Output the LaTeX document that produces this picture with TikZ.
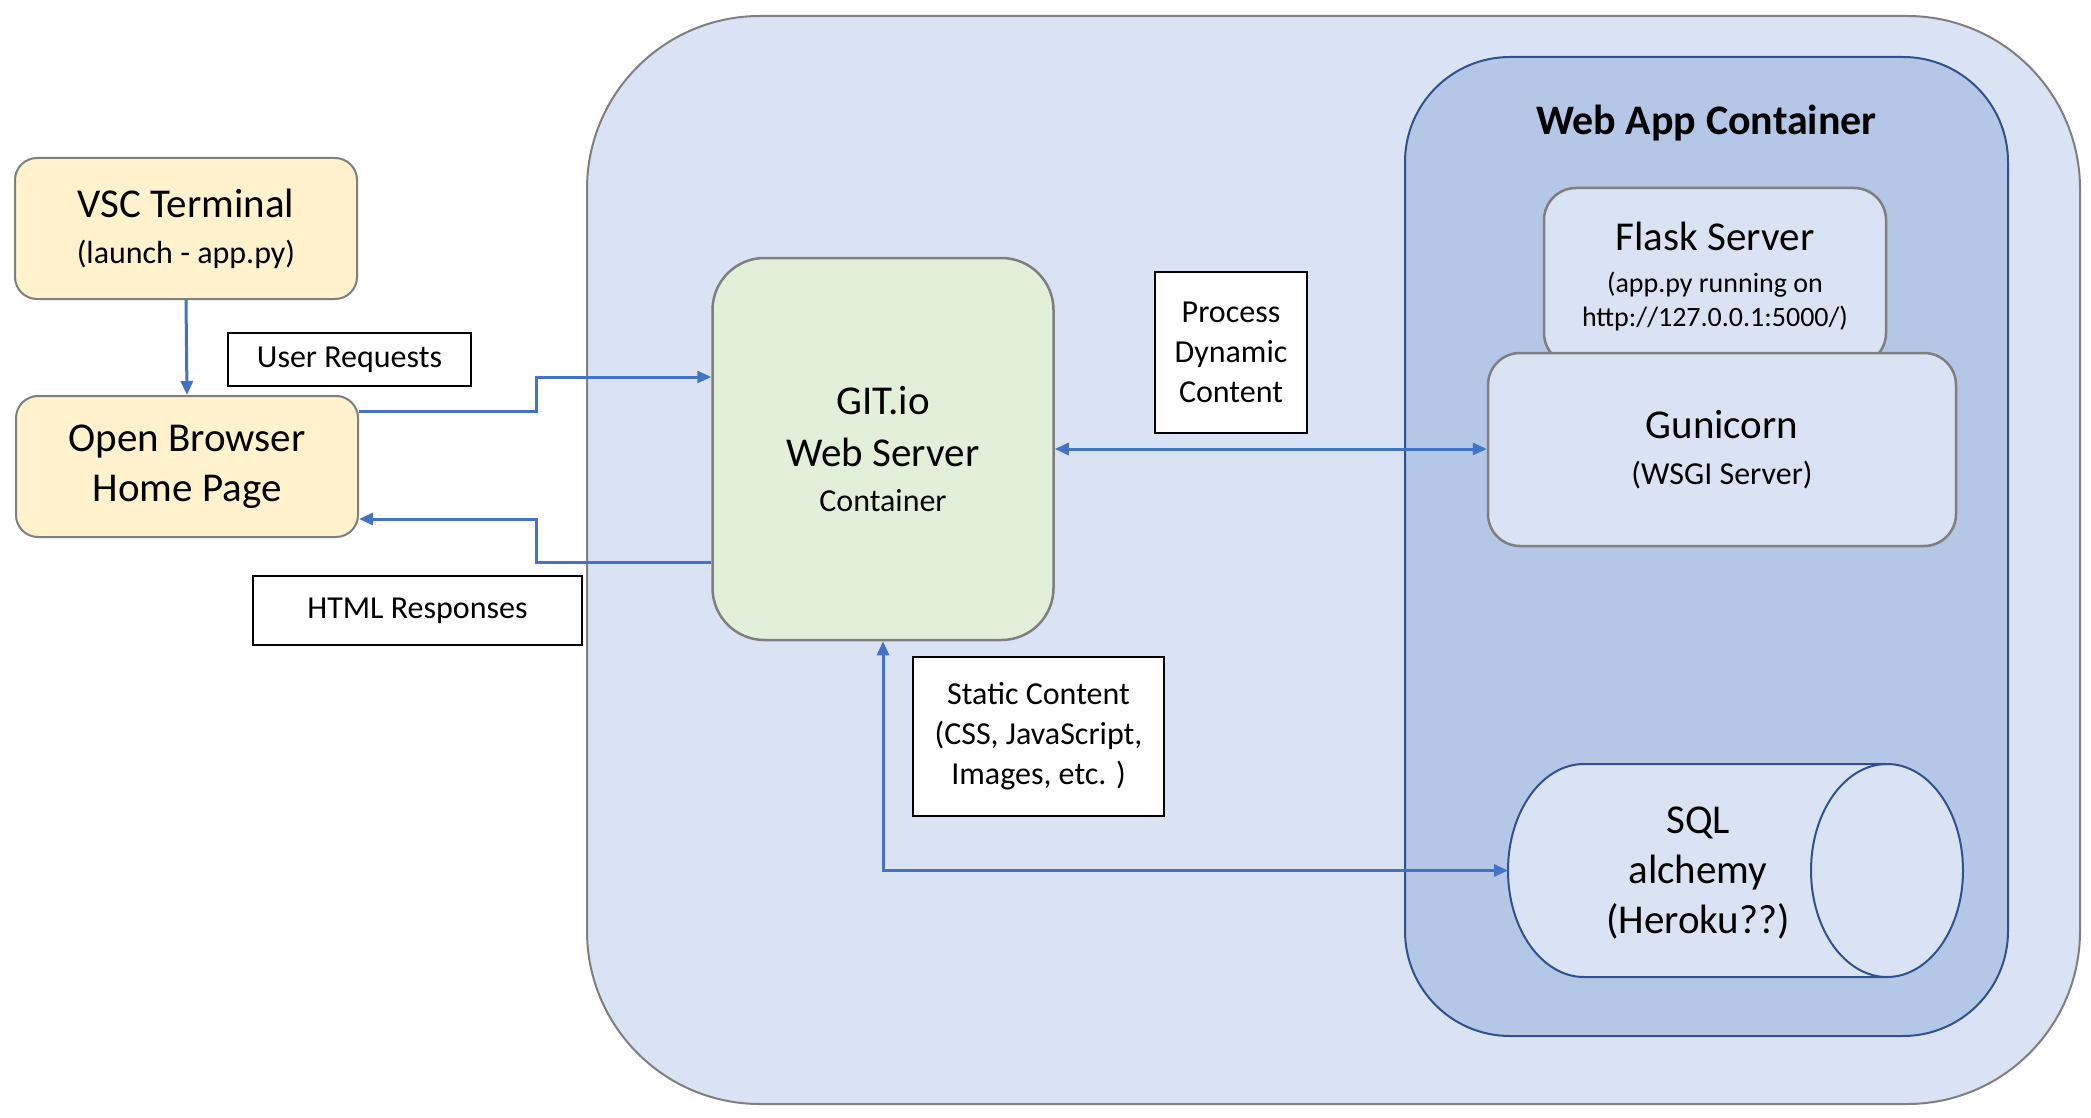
\documentclass[tikz,border=0pt]{standalone}
\usepackage{fontspec}
\setmainfont{Carlito}
\usetikzlibrary{arrows.meta,calc}
\definecolor{outerfill}{HTML}{DAE3F3}
\definecolor{appfill}{HTML}{B4C7E7}
\definecolor{appline}{HTML}{2F528F}
\definecolor{yellowfill}{HTML}{FFF2CC}
\definecolor{greenfill}{HTML}{E2F0D9}
\definecolor{grayline}{HTML}{7F7F7F}
\definecolor{arrowblue}{HTML}{4472C4}
\newcommand{\bigfs}{\fontsize{41}{50}\selectfont}
\newcommand{\medfs}{\fontsize{32}{40}\selectfont}
\newcommand{\medtx}{\fontsize{32}{40}\selectfont}
\newcommand{\smalltx}{\fontsize{28}{34}\selectfont}
\tikzset{
  boxbase/.style={inner sep=0pt, align=center, text=black},
  outerbox/.style={boxbase, draw=grayline, fill=outerfill, line width=2pt, rounded corners=173pt},
  appbox/.style={boxbase, draw=appline, fill=appfill, line width=2pt, rounded corners=105pt},
  serverbox/.style={boxbase, draw=grayline, fill=outerfill, line width=2.5pt, rounded corners=32pt},
  yellowbox/.style={boxbase, draw=grayline, fill=yellowfill, line width=2pt, rounded corners=22pt},
  greenbox/.style={boxbase, draw=grayline, fill=greenfill, line width=2.5pt, rounded corners=52pt},
  labelbox/.style={boxbase, draw=black, fill=white, line width=2.5pt, font=\medfs},
  arrowline/.style={draw=arrowblue, line width=3pt},
  tip/.style={-{Triangle[length=14pt,width=12pt]}},
  twotip/.style={{Triangle[length=14pt,width=12pt]}-{Triangle[length=14pt,width=12pt]}},
  cylline/.style={draw=appline, fill=outerfill, line width=2pt}
}
\begin{document}
\begin{tikzpicture}[x=1pt,y=-1pt]
\useasboundingbox (0,0) rectangle (2091,1118);

% containers
\node[outerbox, minimum width=1493pt, minimum height=1088pt] (outer) at (1333.5,560) {};
\node[appbox, minimum width=603pt, minimum height=979pt] (app) at (1706.5,546.5) {};
\node[boxbase, font=\fontsize{42}{50}\selectfont\bfseries] (apptitle) at (1706.5,123) {Web App Container};

% servers
\node[serverbox, minimum width=342pt, minimum height=177pt, font=\fontsize{41}{34}\selectfont] (flask) at (1715,276.5)
  {Flask Server\\[8pt]
   \smalltx (app.py running on\\
   \smalltx http://127.0.0.1:5000/)};
\node[serverbox, minimum width=468pt, minimum height=193pt, font=\fontsize{41}{46}\selectfont] (guni) at (1722,449.5)
  {Gunicorn\\
   \medtx (WSGI Server)};

% SQL cylinder
\coordinate (sqlw) at (1508,870.5);
\path[cylline] (1584,764) arc[start angle=270, end angle=90, x radius=76, y radius=106.5]
  -- (1887,977) arc[start angle=90, end angle=-90, x radius=76, y radius=106.5] -- cycle;
\draw[cylline, fill=none] (1887,764) arc[start angle=270, end angle=90, x radius=76, y radius=106.5];
\node[boxbase, font=\bigfs] (sql) at (1698,873) {SQL\\alchemy\\(Heroku??)};

% left boxes
\node[yellowbox, minimum width=342pt, minimum height=141pt, font=\fontsize{41}{46}\selectfont] (vsc) at (186,228.5)
  {VSC Terminal\\
   \medtx (launch - app.py)};
\node[yellowbox, minimum width=342pt, minimum height=141pt, font=\bigfs] (browser) at (187,466.5)
  {Open Browser\\Home Page};

% web server
\node[greenbox, minimum width=341pt, minimum height=382pt, font=\fontsize{41}{52}\selectfont] (git) at (883,449)
  {GIT.io\\
   Web Server\\[-7pt]
   \medtx Container};

% label boxes
\node[labelbox, minimum width=243pt, minimum height=53pt] (ureq) at (349.5,359.5) {User Requests};
\node[labelbox, minimum width=329pt, minimum height=69pt] (html) at (417.5,610.5) {HTML Responses};
\node[labelbox, minimum width=152pt, minimum height=161pt] (proc) at (1231,352.5) {Process\\Dynamic\\Content};
\node[labelbox, minimum width=251pt, minimum height=159pt] (static) at (1038.5,736.5) {Static Content\\(CSS, JavaScript,\\Images, etc. )};

% connectors
\coordinate (urbend) at (536,377);
\coordinate (hrbend) at (536,519);
\draw[arrowline, tip] (vsc.south) -- (browser.north);
\draw[arrowline, tip] ([yshift=55pt]browser.east) -| (urbend) -- (urbend -| git.west);
\draw[arrowline, tip] ([yshift=-113pt]git.west) -| (hrbend) -- (hrbend -| browser.east);
\draw[arrowline, twotip] (git.east) -- (git.east -| guni.west);
\draw[arrowline, twotip] (git.south) |- (sqlw);
\end{tikzpicture}
\end{document}
